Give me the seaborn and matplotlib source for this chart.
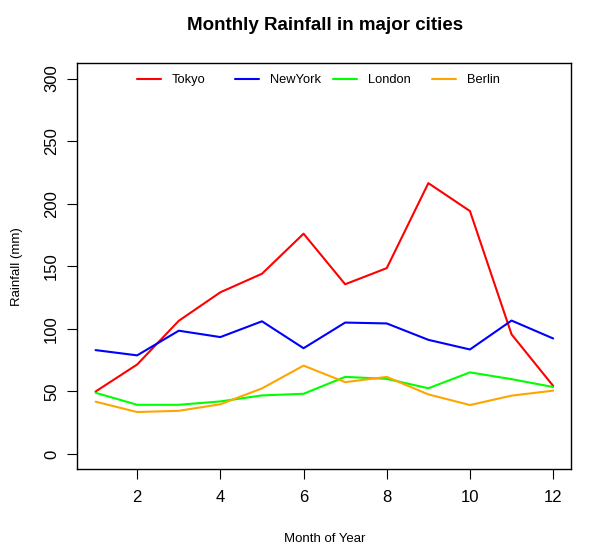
import matplotlib

matplotlib.use("Agg")
import matplotlib.pyplot as plt
import pandas as pd
import seaborn as sns

months = list(range(1, 13))
tokyo = [49.9, 71.5, 106.4, 129.2, 144.0, 176.0, 135.6, 148.5, 216.4, 194.1, 95.6, 54.4]
new_york = [83.0, 78.8, 98.5, 93.4, 106.0, 84.5, 105.0, 104.3, 91.2, 83.5, 106.6, 92.3]
london = [48.9, 39.3, 39.3, 42.0, 46.8, 48.1, 61.6, 60.0, 52.5, 65.2, 59.8, 53.5]
berlin = [41.8, 33.5, 34.5, 39.7, 52.4, 70.6, 57.4, 61.6, 47.6, 39.1, 46.6, 50.6]

cities = ["Tokyo", "NewYork", "London", "Berlin"]
city_colors = {"Tokyo": "red", "NewYork": "blue", "London": "#00ff00", "Berlin": "orange"}
y_ticks = [0, 50, 100, 150, 200, 250, 300]
x_ticks = [2, 4, 6, 8, 10, 12]

rainfall = pd.DataFrame(
    {
        "month": months * 4,
        "rainfall": tokyo + new_york + london + berlin,
        "city": [c for c in cities for _ in months],
    }
)

sns.set_theme(
    style="ticks",
    rc={
        "axes.edgecolor": "black",
        "axes.linewidth": 1.0,
        "axes.labelcolor": "black",
        "text.color": "black",
        "xtick.color": "black",
        "ytick.color": "black",
        "xtick.major.size": 7,
        "ytick.major.size": 7,
        "xtick.major.width": 0.8,
        "ytick.major.width": 0.8,
        "xtick.direction": "out",
        "ytick.direction": "out",
    },
)
plt.rcParams["font.family"] = ["Liberation Sans", "DejaVu Sans"]

fig = plt.figure(figsize=(5.99, 5.57), dpi=100)
ax = fig.add_axes([0.129, 0.158, 0.825, 0.728])

sns.lineplot(
    data=rainfall,
    x="month",
    y="rainfall",
    hue="city",
    hue_order=cities,
    palette=city_colors,
    linewidth=1.5,
    ax=ax,
)

ax.set_xlim(0.56, 12.44)
ax.set_ylim(-12, 312)
ax.set_xticks(x_ticks)
ax.set_yticks(y_ticks)
ax.tick_params(axis="x", labelsize=12, pad=8)
ax.tick_params(axis="y", labelsize=12, pad=6)
for label in ax.get_yticklabels():
    label.set_rotation(90)
    label.set_va("center")

ax.set_xlabel("Month of Year", fontsize=9.5, labelpad=20.5)
ax.set_ylabel("Rainfall (mm)", fontsize=9.5, labelpad=15)
fig.text(0.543, 0.955, "Monthly Rainfall in major cities",
         ha="center", va="center", fontsize=13.5, fontweight="bold")

# R-style legend: evenly spaced entries along the top of the panel
handles, labels = ax.get_legend_handles_labels()
by_label = dict(zip(labels, handles))
ax.get_legend().remove()
legend_x = [0.121, 0.319, 0.518, 0.717]
for city, x in zip(cities, legend_x):
    leg = ax.legend(
        [by_label[city]],
        [city],
        loc="center left",
        bbox_to_anchor=(x, 0.959),
        frameon=False,
        fontsize=9.25,
        handlelength=1.87,
        handletextpad=0.86,
        borderpad=0,
        borderaxespad=0,
    )
    ax.add_artist(leg)
ax.legend_ = None

for spine in ax.spines.values():
    spine.set_visible(True)

fig.savefig("out.png", dpi=100)
